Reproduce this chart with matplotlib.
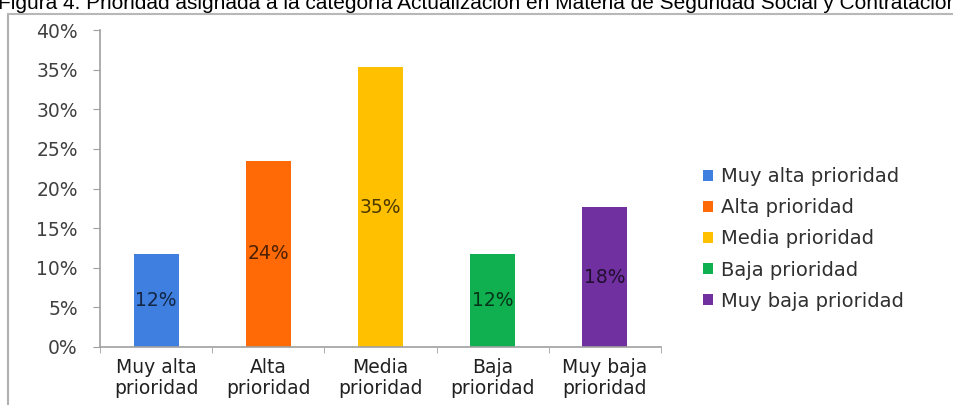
import numpy as np
import matplotlib
matplotlib.use("Agg")
import matplotlib.pyplot as plt
from matplotlib.colors import to_rgb
from matplotlib.patches import Patch
from matplotlib.lines import Line2D

# respuestas por nivel de prioridad (porcentaje sobre el total)
categorias = ["Muy alta\nprioridad", "Alta\nprioridad", "Media\nprioridad",
              "Baja\nprioridad", "Muy baja\nprioridad"]
leyenda = ["Muy alta prioridad", "Alta prioridad", "Media prioridad",
           "Baja prioridad", "Muy baja prioridad"]
valores = [11.76, 23.53, 35.29, 11.76, 17.65]
colores = ["#3f7fe0", "#ff6a06", "#ffc000", "#10b050", "#7030a0"]
yticks = [0, 5, 10, 15, 20, 25, 30, 35, 40]

titulo = ("Figura 4. Prioridad asignada a la categoría Actualización en Materia "
          "de Seguridad Social y Contratación")

W, H = 954, 405
fig = plt.figure(figsize=(W / 100, H / 100), dpi=100)
fig.patch.set_facecolor("white")

ax = fig.add_axes([100 / W, 58 / H, 561 / W, 317 / H])
x = np.arange(len(valores))
bars = ax.bar(x, valores, width=0.4, color=colores, zorder=2)

for b, v, c in zip(bars, valores, colores):
    oscuro = tuple(np.array(to_rgb(c)) * 0.3)
    ax.text(b.get_x() + b.get_width() / 2, v / 2, "%.0f%%" % v,
            ha="center", va="center", fontsize=13.5, color=oscuro,
            family="DejaVu Sans")

ax.set_xlim(-0.5, len(valores) - 0.5)
ax.set_ylim(0, 40)
ax.set_yticks(yticks)
ax.set_yticklabels(["%d%%" % t for t in yticks])
ax.set_xticks(x)
ax.set_xticklabels(categorias, linespacing=1.1)
ax.set_xticks(np.arange(len(valores) + 1) - 0.5, minor=True)

for s in ["top", "right"]:
    ax.spines[s].set_visible(False)
for s in ["left", "bottom"]:
    ax.spines[s].set_color("#a0a0a0")
    ax.spines[s].set_linewidth(1.2)

ax.tick_params(axis="y", length=5, color="#a0a0a0", pad=11,
               labelsize=13.5, labelcolor="#404040")
ax.tick_params(axis="x", which="major", length=0, pad=8,
               labelsize=13.5, labelcolor="#202020")
ax.tick_params(axis="x", which="minor", length=4, color="#a0a0a0")

handles = [Patch(facecolor=c) for c in colores]
fig.legend(handles, leyenda, loc="center left",
           bbox_to_anchor=(703 / W, 0.41), bbox_transform=fig.transFigure,
           frameon=False, fontsize=14, labelcolor="#303030",
           handlelength=0.5, handleheight=0.5, handletextpad=0.45,
           labelspacing=0.62, borderpad=0, borderaxespad=0)

# marco del gráfico
fig.add_artist(Line2D([8 / W, 8 / W], [0, 1 - 14 / H],
                      transform=fig.transFigure, color="#b0b0b0", lw=1.5))
fig.add_artist(Line2D([8 / W, 1], [1 - 14 / H, 1 - 14 / H],
                      transform=fig.transFigure, color="#b8b8b8", lw=1.5))

fig.text(-0.002, 1 - 9 / H, titulo, ha="left", va="baseline",
         fontsize=15, family=["Liberation Sans"], color="black")

fig.savefig("out.png", dpi=100, facecolor="white")
